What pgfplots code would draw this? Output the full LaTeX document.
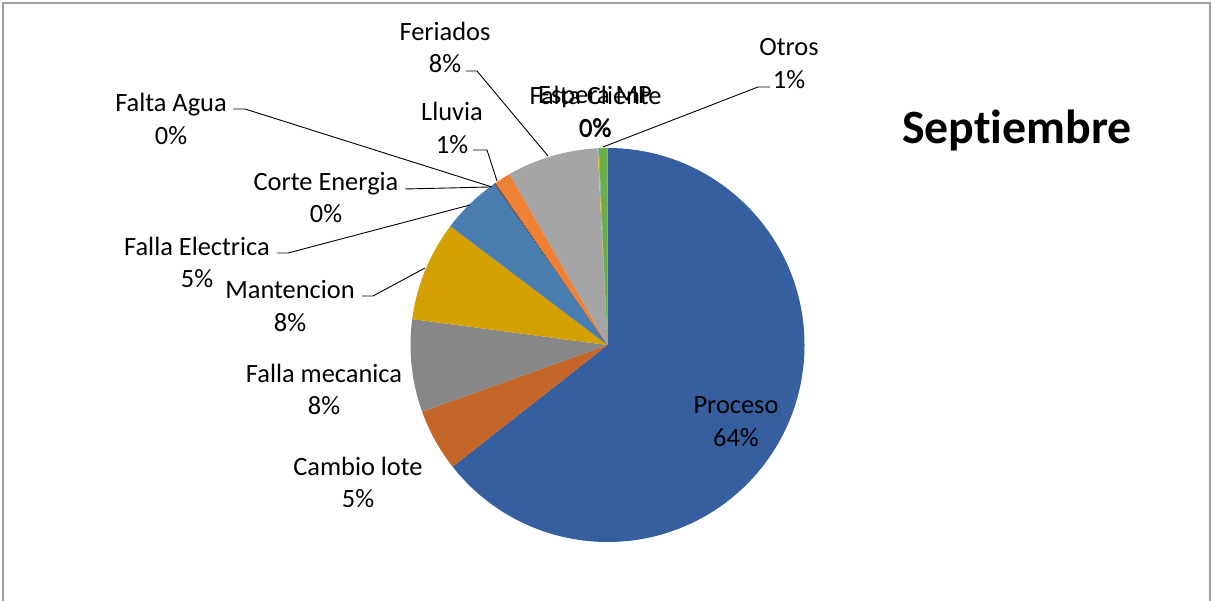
\documentclass[border=0pt]{standalone}
\usepackage{pgfplots}
\usepackage{pgfplotstable}
\pgfplotsset{compat=1.18}
\usepackage{fontspec}
\setmainfont{Carlito}[Ligatures=NoCommon]
\definecolor{cProceso}{HTML}{365F9F}
\definecolor{cCambio}{HTML}{C4652A}
\definecolor{cMecanica}{HTML}{878787}
\definecolor{cMantencion}{HTML}{D4A000}
\definecolor{cElectrica}{HTML}{4A7EB0}
\definecolor{cCorte}{HTML}{2E5C8A}
\definecolor{cAgua}{HTML}{9E4A1E}
\definecolor{cLluvia}{HTML}{EE8133}
\definecolor{cFeriados}{HTML}{A5A5A5}
\definecolor{cEspera}{HTML}{FFC000}
\definecolor{cCliente}{HTML}{5B9BD5}
\definecolor{cOtros}{HTML}{6DAD45}
\newcommand\lbl{\fontsize{26.5}{33}\selectfont}
\pgfplotstableread[col sep=comma]{
label,value,col
Proceso,64.4,cProceso
Cambio lote,5.1,cCambio
Falla mecanica,7.6,cMecanica
Mantencion,8.2,cMantencion
Falla Electrica,4.9,cElectrica
Corte Energia,0.1,cCorte
Falta Agua,0.1,cAgua
Lluvia,1.3,cLluvia
Feriados,7.5,cFeriados
Espera MP,0.05,cEspera
Falta Cliente,0.05,cCliente
Otros,0.7,cOtros
}\piedata
\pgfplotstablecreatecol[create col/expr accum={\pgfmathaccuma+\thisrow{value}}{0}]{cum}\piedata
\begin{document}
\begin{tikzpicture}
\useasboundingbox (0,0) rectangle (1213bp,601bp);
\begin{axis}[
  at={(0,0)}, anchor=south west,
  width=1213bp, height=601bp, scale only axis,
  xmin=0, xmax=1213, ymin=0, ymax=601,
  hide axis, clip=false,
]
\pgfplotsinvokeforeach{0,...,11}{
  \pgfplotstablegetelem{#1}{value}\of\piedata \let\vv\pgfplotsretval
  \pgfplotstablegetelem{#1}{cum}\of\piedata \let\cu\pgfplotsretval
  \pgfplotstablegetelem{#1}{col}\of\piedata \let\cc\pgfplotsretval
  \pgfmathsetmacro\ea{90-3.6*\cu}
  \pgfmathsetmacro\sa{\ea+3.6*\vv}
  \edef\cmd{\noexpand\fill[\cc] (axis cs:607.5,256) -- ++(\sa:197bp) arc[start angle=\sa, end angle=\ea, radius=197bp] -- cycle;}
  \cmd
}
% border
\draw[gray!75, line width=1.5bp] (axis cs:3,0) -- (axis cs:3,598) -- (axis cs:1210,598) -- (axis cs:1210,0);
% leader lines
\draw[black, line width=0.9bp] (axis cs:466,530) -- (axis cs:477,530) -- (axis cs:548,445);
\draw[black, line width=0.9bp] (axis cs:770,514) -- (axis cs:758,514) -- (axis cs:603,454);
\draw[black, line width=0.9bp] (axis cs:473,451) -- (axis cs:487,451) -- (axis cs:497,420);
\draw[black, line width=0.9bp] (axis cs:405,412) -- (axis cs:490,414);
\draw[black, line width=0.9bp] (axis cs:233,492) -- (axis cs:245,492) -- (axis cs:492,414);
\draw[black, line width=0.9bp] (axis cs:277,348) -- (axis cs:288,348) -- (axis cs:470,396);
\draw[black, line width=0.9bp] (axis cs:362,305) -- (axis cs:373,305) -- (axis cs:425,333);
% labels
\node[align=center, font=\lbl, text=black] at (axis cs:445,553.5) {Feriados\\8\%};
\node[align=center, font=\lbl, text=black] at (axis cs:789,537.5) {Otros\\1\%};
\node[align=center, font=\lbl, text=black] at (axis cs:595,489) {Espera MP\\0\%};
\node[align=center, font=\lbl, text=black] at (axis cs:595.6,489) {Falta Cliente\\0\%};
\node[align=center, font=\lbl, text=black] at (axis cs:452,473) {Lluvia\\1\%};
\node[align=center, font=\lbl, text=black] at (axis cs:326,403.5) {Corte Energia\\0\%};
\node[align=center, font=\lbl, text=black] at (axis cs:171,482) {Falta Agua\\0\%};
\node[align=center, font=\lbl, text=black] at (axis cs:197,338.5) {Falla Electrica\\5\%};
\node[align=center, font=\lbl, text=black] at (axis cs:290,295) {Mantencion\\8\%};
\node[align=center, font=\lbl, text=black] at (axis cs:324,211.5) {Falla mecanica\\8\%};
\node[align=center, font=\lbl, text=black] at (axis cs:358,118.5) {Cambio lote\\5\%};
\node[align=center, font=\lbl, text=black] at (axis cs:736,179) {Proceso\\64\%};
\node[font=\fontsize{48}{56}\selectfont\bfseries, text=black] at (axis cs:1017,471) {Septiembre};
\end{axis}
\end{tikzpicture}
\end{document}
